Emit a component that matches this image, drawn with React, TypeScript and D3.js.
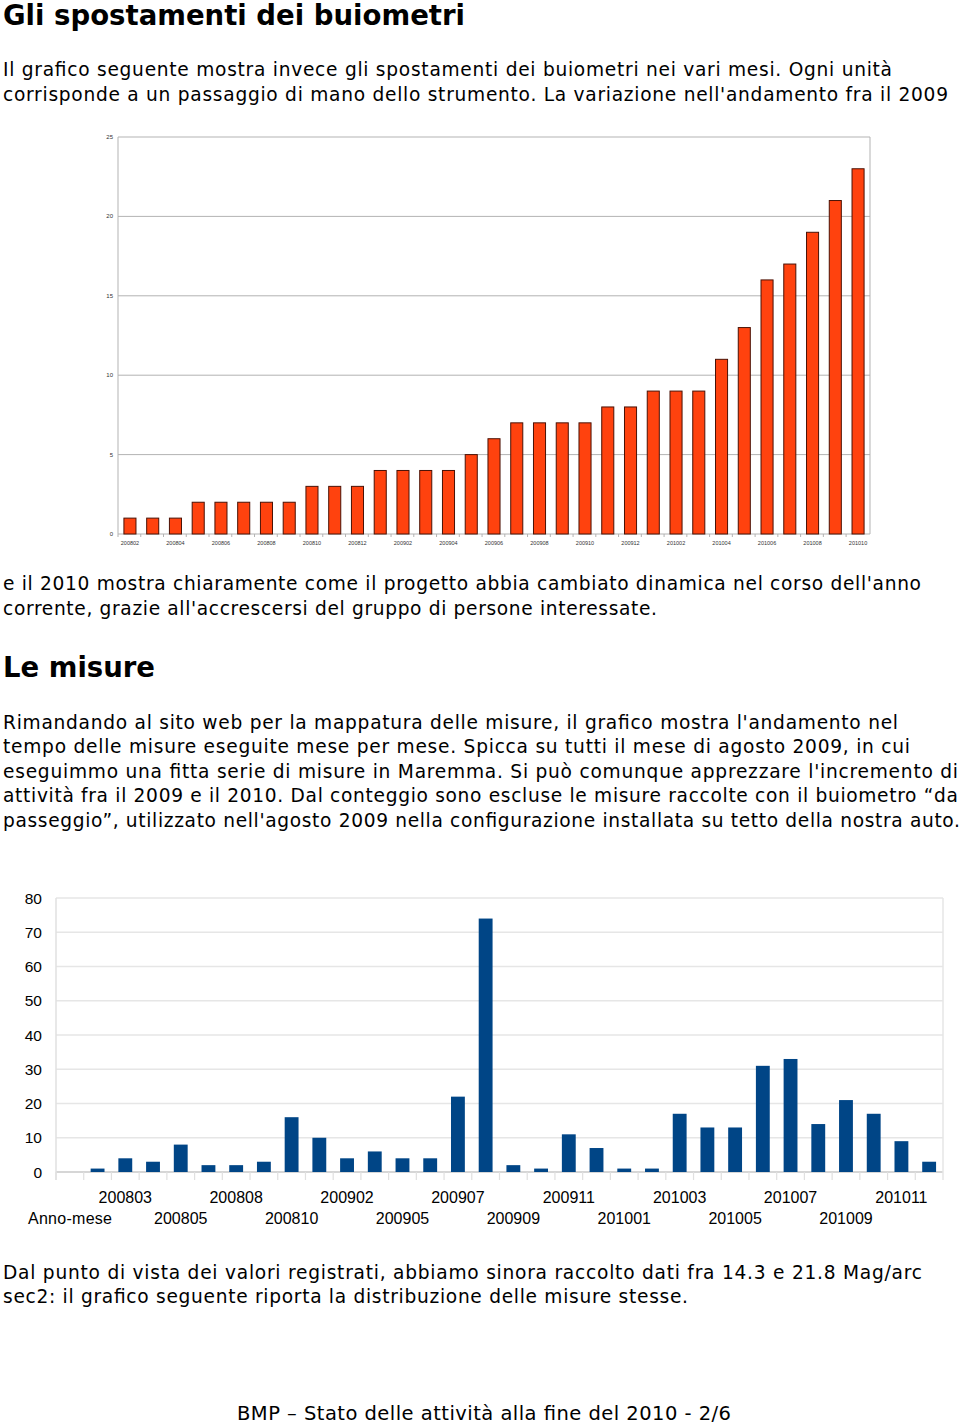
import React from "react";
import * as d3 from "d3";

const months1 = [
  "200802","200803","200804","200805","200806","200807","200808","200809","200810","200811","200812",
  "200901","200902","200903","200904","200905","200906","200907","200908","200909","200910","200911","200912",
  "201001","201002","201003","201004","201005","201006","201007","201008","201009","201010",
];
const moves = [1,1,1,2,2,2,2,2,3,3,3,4,4,4,4,5,6,7,7,7,7,8,8,9,9,9,11,13,16,17,19,21,23];
const ticks1 = [0, 5, 10, 15, 20, 25];

const months2 = [
  "Anno-mese","200802","200803","200804","200805","200806","200808","200809","200810","200812",
  "200902","200904","200905","200906","200907","200908","200909","200910","200911","200912",
  "201001","201002","201003","201004","201005","201006","201007","201008","201009","201010","201011","201012",
];
const measures: (number | null)[] = [
  null,1,4,3,8,2,2,3,16,10,4,6,4,4,22,74,2,1,11,7,1,1,17,13,13,31,33,14,21,17,9,3,
];
const ticks2 = [0, 10, 20, 30, 40, 50, 60, 70, 80];

const textLines: { t: string; y: number; w: number }[] = [
  { t: "Il grafico seguente mostra invece gli spostamenti dei buiometri nei vari mesi. Ogni unità", y: 76, w: 889 },
  { t: "corrisponde a un passaggio di mano dello strumento. La variazione nell'andamento fra il 2009", y: 101, w: 945 },
  { t: "e il 2010 mostra chiaramente come il progetto abbia cambiato dinamica nel corso dell'anno", y: 590, w: 918 },
  { t: "corrente, grazie all'accrescersi del gruppo di persone interessate.", y: 615, w: 654 },
  { t: "Rimandando al sito web per la mappatura delle misure, il grafico mostra l'andamento nel", y: 729, w: 895 },
  { t: "tempo delle misure eseguite mese per mese. Spicca su tutti il mese di agosto 2009, in cui", y: 753, w: 907 },
  { t: "eseguimmo una fitta serie di misure in Maremma. Si può comunque apprezzare l'incremento di", y: 778, w: 955 },
  { t: "attività fra il 2009 e il 2010. Dal conteggio sono escluse le misure raccolte con il buiometro “da", y: 802, w: 955 },
  { t: "passeggio”, utilizzato nell'agosto 2009 nella configurazione installata su tetto della nostra auto.", y: 827, w: 957 },
  { t: "Dal punto di vista dei valori registrati, abbiamo sinora raccolto dati fra 14.3 e 21.8 Mag/arc", y: 1279, w: 919 },
  { t: "sec2: il grafico seguente riporta la distribuzione delle misure stesse.", y: 1303, w: 685 },
];

const TXT = "'DejaVu Sans', Verdana, sans-serif";
const CH = "'Liberation Sans', Arial, sans-serif";

export default function App() {
  // Chart 1
  const L1 = 118, R1 = 870, T1 = 137, B1 = 534;
  const x1 = d3.scaleBand<string>().domain(months1).range([L1, R1]).paddingInner(0.47).paddingOuter(0.26);
  const y1 = d3.scaleLinear().domain([0, 25]).range([B1, T1]);
  const step1 = x1.step();

  // Chart 2
  const L2 = 56, R2 = 943, T2 = 898, B2 = 1172;
  const x2 = d3.scaleBand<string>().domain(months2).range([L2, R2]).paddingInner(0.5).paddingOuter(0.25);
  const y2 = d3.scaleLinear().domain([0, 80]).range([B2, T2]);
  const step2 = x2.step();

  return (
    <svg width={960} height={1425} style={{ position: "absolute", left: 0, top: 0, background: "#fff" }}>
      <rect x={0} y={0} width={960} height={1425} fill="#fff" />
      <text x={3} y={25} fontFamily={TXT} fontWeight="bold" fontSize={27.5} textLength={462} lengthAdjust="spacingAndGlyphs" fill="#000">
        Gli spostamenti dei buiometri
      </text>
      <text x={3} y={677} fontFamily={TXT} fontWeight="bold" fontSize={27.5} textLength={152} lengthAdjust="spacingAndGlyphs" fill="#000">
        Le misure
      </text>
      {textLines.map((l, i) => (
        <text key={i} x={3} y={l.y} fontFamily={TXT} fontSize={18.6} textLength={l.w} lengthAdjust="spacing" fill="#000">
          {l.t}
        </text>
      ))}
      <text x={237} y={1420} fontFamily={TXT} fontSize={19.5} textLength={494} lengthAdjust="spacing" fill="#000">
        BMP – Stato delle attività alla fine del 2010 - 2/6
      </text>

      {/* Chart 1 */}
      <g>
        {ticks1.map((t) => (
          <g key={t}>
            <line x1={L1} x2={R1} y1={y1(t)} y2={y1(t)} stroke="#b3b3b3" strokeWidth={1} />
            <text x={L1 - 5} y={y1(t) + 2} textAnchor="end" fontFamily={CH} fontSize={6} fill="#333">{t}</text>
          </g>
        ))}
        <line x1={L1} x2={L1} y1={T1} y2={B1} stroke="#b3b3b3" />
        <line x1={R1} x2={R1} y1={T1} y2={B1} stroke="#b3b3b3" />
        {months1.map((m, i) => (
          <line key={"tk" + m} x1={L1 + i * step1} x2={L1 + i * step1} y1={B1} y2={B1 + 3} stroke="#b3b3b3" />
        ))}
        {months1.map((m, i) => (
          <rect key={m} x={x1(m)!} y={y1(moves[i])} width={x1.bandwidth()} height={B1 - y1(moves[i])}
            fill="#ff420e" stroke="#4a1206" strokeWidth={1} />
        ))}
        {months1.map((m, i) =>
          i % 2 === 0 ? (
            <text key={"l" + m} x={x1(m)! + x1.bandwidth() / 2} y={545} textAnchor="middle" fontFamily={CH} fontSize={5.5} fill="#333">
              {m}
            </text>
          ) : null
        )}
      </g>

      {/* Chart 2 */}
      <g>
        {ticks2.map((t) => (
          <g key={t}>
            <line x1={L2} x2={R2} y1={y2(t)} y2={y2(t)} stroke={t === 0 ? "#c8c8c8" : "#e6e6e6"} strokeWidth={1.5} />
            <text x={42} y={y2(t) + 5.5} textAnchor="end" fontFamily={CH} fontSize={15.5} fill="#000">{t}</text>
          </g>
        ))}
        <line x1={L2} x2={L2} y1={T2} y2={B2 + 8} stroke="#e0e0e0" strokeWidth={1.5} />
        <line x1={R2} x2={R2} y1={T2} y2={B2 + 8} stroke="#e6e6e6" strokeWidth={1.5} />
        {months2.map((m, i) => (
          <line key={"tk" + m} x1={L2 + i * step2} x2={L2 + i * step2} y1={B2} y2={B2 + 8} stroke="#e0e0e0" strokeWidth={1.2} />
        ))}
        {months2.map((m, i) =>
          measures[i] == null ? null : (
            <rect key={m} x={x2(m)!} y={y2(measures[i] as number)} width={x2.bandwidth()} height={B2 - y2(measures[i] as number)} fill="#004586" />
          )
        )}
        {months2.map((m, i) =>
          i % 2 === 0 ? (
            <text key={"l" + m} x={m === "Anno-mese" ? 28 : x2(m)! + x2.bandwidth() / 2} y={(i / 2) % 2 === 0 ? 1224 : 1203}
              textAnchor={m === "Anno-mese" ? "start" : "middle"}
              fontFamily={CH} fontSize={16} fill="#000"
              textLength={m === "Anno-mese" ? 84 : undefined} lengthAdjust="spacing">
              {m}
            </text>
          ) : null
        )}
      </g>
    </svg>
  );
}
